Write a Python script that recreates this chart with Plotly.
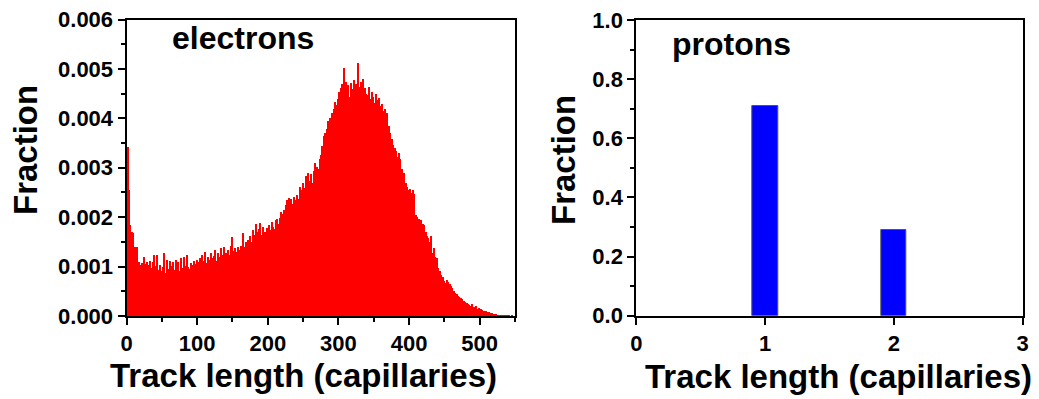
import plotly.graph_objects as go

W, H = 1039, 399

# ---------------- data ----------------
electron_bin_width = 2  # capillaries per bin
electron_fraction = [
    0.00343, 0.00255, 0.00185, 0.00170, 0.00168, 0.00140, 0.00128, 0.00140, 0.00110, 0.00105,
    0.00108, 0.00102, 0.00120, 0.00106, 0.00110, 0.00105, 0.00112, 0.00098, 0.00110, 0.00125,
    0.00102, 0.00125, 0.00095, 0.00105, 0.00092, 0.00100, 0.00128, 0.00088, 0.00115, 0.00096,
    0.00112, 0.00102, 0.00110, 0.00095, 0.00115, 0.00100, 0.00110, 0.00092, 0.00118, 0.00098,
    0.00120, 0.00102, 0.00124, 0.00100, 0.00096, 0.00108, 0.00104, 0.00112, 0.00106, 0.00115,
    0.00110, 0.00118, 0.00105, 0.00125, 0.00112, 0.00130, 0.00108, 0.00120, 0.00115, 0.00128,
    0.00118, 0.00122, 0.00135, 0.00112, 0.00128, 0.00120, 0.00138, 0.00125, 0.00140, 0.00122,
    0.00128, 0.00135, 0.00125, 0.00142, 0.00160, 0.00132, 0.00138, 0.00130, 0.00140, 0.00135,
    0.00142, 0.00138, 0.00168, 0.00140, 0.00150, 0.00155, 0.00145, 0.00162, 0.00150, 0.00175,
    0.00165, 0.00188, 0.00170, 0.00178, 0.00190, 0.00165, 0.00182, 0.00172, 0.00168, 0.00180,
    0.00185, 0.00175, 0.00192, 0.00182, 0.00178, 0.00195, 0.00198, 0.00188, 0.00200, 0.00212,
    0.00208, 0.00215, 0.00225, 0.00235, 0.00240, 0.00222, 0.00238, 0.00228, 0.00242, 0.00235,
    0.00245, 0.00238, 0.00262, 0.00255, 0.00270, 0.00260, 0.00285, 0.00280, 0.00290, 0.00275,
    0.00288, 0.00270, 0.00295, 0.00310, 0.00302, 0.00298, 0.00318, 0.00326, 0.00345, 0.00366,
    0.00372, 0.00380, 0.00395, 0.00402, 0.00398, 0.00412, 0.00420, 0.00435, 0.00428, 0.00440,
    0.00455, 0.00462, 0.00470, 0.00502, 0.00458, 0.00475, 0.00468, 0.00445, 0.00472, 0.00460,
    0.00478, 0.00462, 0.00470, 0.00513, 0.00465, 0.00475, 0.00458, 0.00480, 0.00462, 0.00450,
    0.00448, 0.00465, 0.00440, 0.00455, 0.00445, 0.00432, 0.00450, 0.00438, 0.00442, 0.00425,
    0.00430, 0.00415, 0.00420, 0.00405, 0.00412, 0.00385, 0.00372, 0.00360, 0.00348, 0.00340,
    0.00335, 0.00322, 0.00330, 0.00318, 0.00298, 0.00285, 0.00290, 0.00270, 0.00262, 0.00255,
    0.00258, 0.00250, 0.00256, 0.00248, 0.00205, 0.00202, 0.00198, 0.00192, 0.00195, 0.00188,
    0.00185, 0.00172, 0.00162, 0.00158, 0.00150, 0.00162, 0.00128, 0.00138, 0.00120, 0.00118,
    0.00098, 0.00092, 0.00085, 0.00080, 0.00072, 0.00068, 0.00074, 0.00070, 0.00065, 0.00062,
    0.00058, 0.00052, 0.00048, 0.00045, 0.00042, 0.00040, 0.00038, 0.00035, 0.00032, 0.00030,
    0.00027, 0.00026, 0.00024, 0.00022, 0.00025, 0.00020, 0.00018, 0.00021, 0.00016, 0.00018,
    0.00015, 0.00014, 0.00012, 0.00011, 0.00012, 0.00009, 0.00010, 0.00008, 0.00007, 0.00006,
    0.00005, 0.00006, 0.00004, 0.00004, 0.00003, 0.00004, 0.00002, 0.00003, 0.00002, 0.00002,
    0.00002, 0.00001, 0.00002, 0.00001, 0.00001,
]
electron_bin_center = [i * electron_bin_width + electron_bin_width / 2
                       for i in range(len(electron_fraction))]

proton_track_length = [1, 2]
proton_fraction = [0.71, 0.29]

left_xticks = [0, 100, 200, 300, 400, 500]
left_yticks = [0.000, 0.001, 0.002, 0.003, 0.004, 0.005, 0.006]
right_xticks = [0, 1, 2, 3]
right_yticks = [0.0, 0.2, 0.4, 0.6, 0.8, 1.0]

# ---------------- figure ----------------
FONT = "Liberation Sans, Arial, sans-serif"

def px_x(x):
    return x / W

def px_y(y):
    return 1 - y / H

fig = go.Figure()
fig.add_trace(go.Bar(
    x=electron_bin_center, y=electron_fraction, width=electron_bin_width,
    marker=dict(color="#ff0000", line=dict(width=0)),
    xaxis="x", yaxis="y", showlegend=False,
))
fig.add_trace(go.Bar(
    x=proton_track_length, y=proton_fraction, width=0.2,
    marker=dict(color="#0000ff", line=dict(color="#555555", width=1)),
    xaxis="x2", yaxis="y2", showlegend=False,
))

tickfont = dict(family=FONT, size=22, color="black", weight="bold")
axis_common = dict(
    showline=True, linecolor="black", linewidth=2, mirror=True,
    ticks="outside", ticklen=7, tickwidth=2, tickcolor="black",
    showgrid=False, zeroline=False, tickfont=tickfont, automargin=False,
)
minor_common = dict(ticks="outside", ticklen=4, tickwidth=2, tickcolor="black")

fig.update_layout(
    width=W, height=H, autosize=False,
    margin=dict(l=0, r=0, t=0, b=0, autoexpand=False),
    paper_bgcolor="white", plot_bgcolor="white",
    bargap=0,
    xaxis=dict(domain=[px_x(126.5), px_x(515)], range=[0, 550],
               tickvals=left_xticks, anchor="y",
               minor=dict(dtick=50, tick0=0, **minor_common),
               **axis_common),
    yaxis=dict(domain=[px_y(316), px_y(19.5)], range=[0, 0.006],
               tickvals=left_yticks, tickformat=".3f", anchor="x",
               minor=dict(dtick=0.0005, tick0=0, **minor_common),
               **axis_common),
    xaxis2=dict(domain=[px_x(636.3), px_x(1022.7)], range=[0, 3],
                tickvals=right_xticks, anchor="y2",
                **axis_common),
    yaxis2=dict(domain=[px_y(315.7), px_y(20)], range=[0, 1.0],
                tickvals=right_yticks, tickformat=".1f", anchor="x2",
                minor=dict(dtick=0.1, tick0=0, **minor_common),
                **axis_common),
)

title_font = dict(family=FONT, size=33, color="black", weight="bold")
label_font = dict(family=FONT, size=32, color="black", weight="bold")

annotations = [
    dict(text="Fraction", x=px_x(25), y=px_y(150), textangle=-90, font=title_font),
    dict(text="Fraction", x=px_x(563), y=px_y(160), textangle=-90, font=title_font),
    dict(text="Track length (capillaries)", x=px_x(303.5), y=px_y(375), font=title_font),
    dict(text="Track length (capillaries)", x=px_x(838), y=px_y(376), font=title_font),
    dict(text="electrons", x=px_x(243), y=px_y(38), font=label_font),
    dict(text="protons", x=px_x(731), y=px_y(44), font=label_font),
]
for a in annotations:
    fig.add_annotation(xref="paper", yref="paper", showarrow=False,
                       xanchor="center", yanchor="middle", **a)

fig.write_html("out.html")
